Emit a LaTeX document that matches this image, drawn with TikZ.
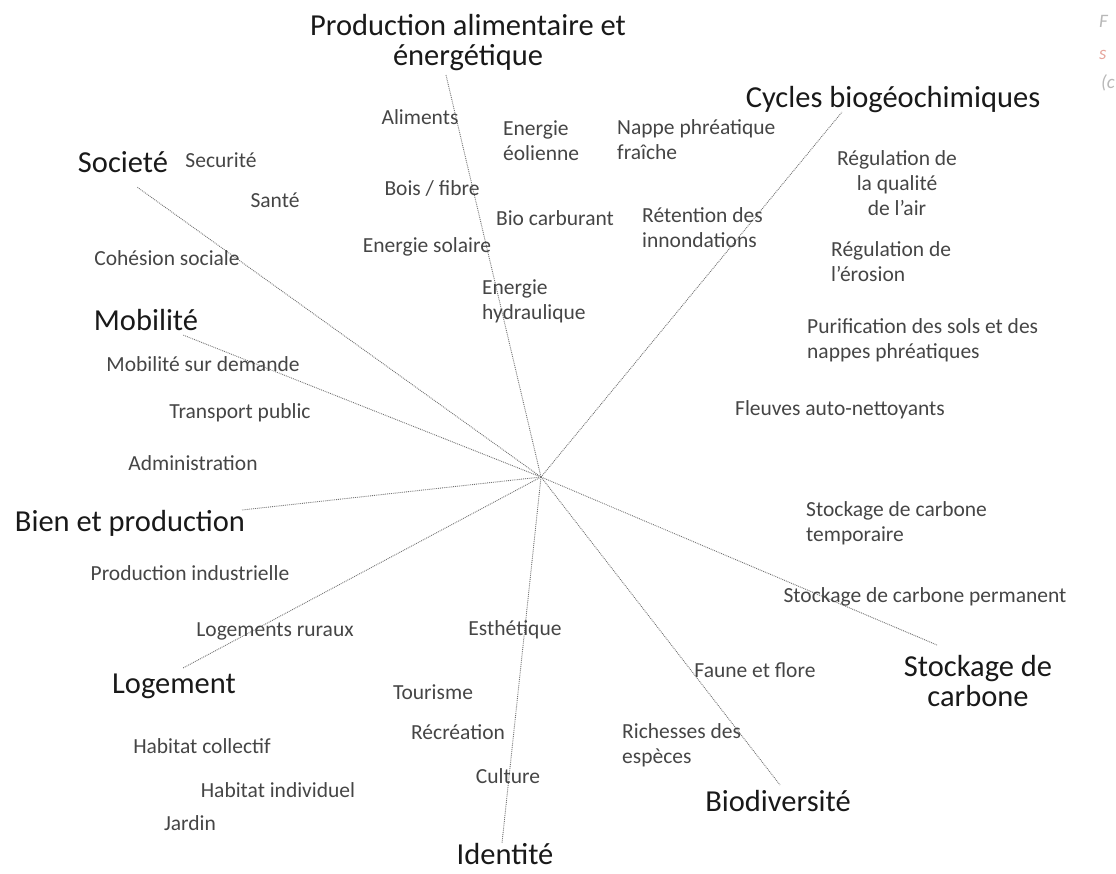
\documentclass[tikz,border=0pt]{standalone}
\usepackage{fontspec}
\setmainfont{Carlito}
\usetikzlibrary{calc}
\definecolor{labelgray}{HTML}{454545}
\definecolor{axisgray}{HTML}{727272}
\definecolor{capgray}{HTML}{B8B8B8}
\definecolor{cappink}{HTML}{E6A59C}
\tikzset{
    pole/.style={font=\fontsize{30.5}{30}\selectfont, text=black!90, inner sep=1pt, align=center},
    service/.style={font=\fontsize{21.5}{25}\selectfont, text=labelgray, inner sep=1pt},
    serviceleft/.style={service, align=left, anchor=west},
    servicemid/.style={service, align=center},
    spoke/.style={draw=axisgray, densely dotted, line width=0.9pt},
    capbit/.style={font=\fontsize{19}{19}\selectfont\itshape, inner sep=0pt, anchor=west},
}

\begin{document}
\begin{tikzpicture}[x=1pt, y=-1pt]
    \useasboundingbox (0,0) rectangle (1116,873);

    % poles
    \node[pole] (prod) at (468,43) {Production alimentaire et\\énergétique};
    \node[pole] (cycles) at (893,100) {Cycles biogéochimiques};
    \node[pole] (societe) at (123,162) {Societé};
    \node[pole] (mobilite) at (146,320) {Mobilité};
    \node[pole] (bien) at (130,523) {Bien et production};
    \node[pole] (logement) at (174,686) {Logement};
    \node[pole] (identite) at (505,854) {Identité};
    \node[pole] (biodiv) at (778,801) {Biodiversité};
    \node[pole] (stockage) at (978,681) {Stockage de\\carbone};

    % spokes
    \coordinate (ctr) at (541,477);
    \coordinate (prodtip) at (446,75);
    \coordinate (cyclestip) at (842,112);
    \coordinate (societetip) at (137,187);
    \coordinate (mobilitetip) at (183,335);
    \coordinate (bientip) at (242,510);
    \coordinate (logementtip) at (183,668);
    \coordinate (identitetip) at (502,843);
    \coordinate (biodivtip) at (780,785);
    \coordinate (stockagetip) at (937,645);
    \foreach \tip in {prodtip, cyclestip, societetip, mobilitetip, bientip, logementtip, identitetip, biodivtip, stockagetip}
        \draw[spoke] (ctr) -- (\tip);

    % services
    \node[service] (aliments) at (420,117) {Aliments};
    \node[serviceleft] (eolienne) at (502,141) {Energie\\éolienne};
    \node[serviceleft] (nappe) at (616,140) {Nappe phréatique\\fraîche};
    \node[service] (securite) at (221,160) {Securité};
    \node[service] (sante) at (275,200) {Santé};
    \node[service] (bois) at (432,188) {Bois / fibre};
    \node[service] (biocarb) at (555,218) {Bio carburant};
    \node[serviceleft] (retention) at (641,228) {Rétention des\\innondations};
    \node[service] (solaire) at (427,247) {Energie solaire};
    \node[service] (cohesion) at (167,258) {Cohésion sociale};
    \node[serviceleft] (hydro) at (481,301) {Energie\\hydraulique};
    \node[servicemid] (air) at (897,183) {Régulation de\\la qualité\\de l'air};
    \node[serviceleft] (erosion) at (830,262) {Régulation de\\l'érosion};
    \node[serviceleft] (purif) at (806,340) {Purification des sols et des\\nappes phréatiques};
    \node[service] (fleuves) at (840,410) {Fleuves auto-nettoyants};
    \node[service] (demande) at (203,364) {Mobilité sur demande};
    \node[service] (transport) at (240,413) {Transport public};
    \node[service] (admin) at (193,463) {Administration};
    \node[serviceleft] (temporaire) at (805,523) {Stockage de carbone\\temporaire};
    \node[service] (permanent) at (925,597) {Stockage de carbone permanent};
    \node[service] (industrie) at (190,573) {Production industrielle};
    \node[service] (ruraux) at (275,631) {Logements ruraux};
    \node[service] (esthetique) at (515,630) {Esthétique};
    \node[service] (faune) at (755,670) {Faune et flore};
    \node[service] (tourisme) at (433,692) {Tourisme};
    \node[service] (recreation) at (458,732) {Récréation};
    \node[service] (collectif) at (202,746) {Habitat collectif};
    \node[serviceleft] (especes) at (621,745) {Richesses des\\espèces};
    \node[service] (culture) at (508,776) {Culture};
    \node[service] (individuel) at (278,790) {Habitat individuel};
    \node[service] (jardin) at (190,823) {Jardin};

    % caption fragment cut by the right edge
    \node[capbit, text=capgray] (capf) at (1099,21) {F};
    \node[capbit, text=cappink] (caps) at (1099,55) {s};
    \node[capbit, text=capgray] (capc) at (1101,83) {(c};
\end{tikzpicture}
\end{document}
